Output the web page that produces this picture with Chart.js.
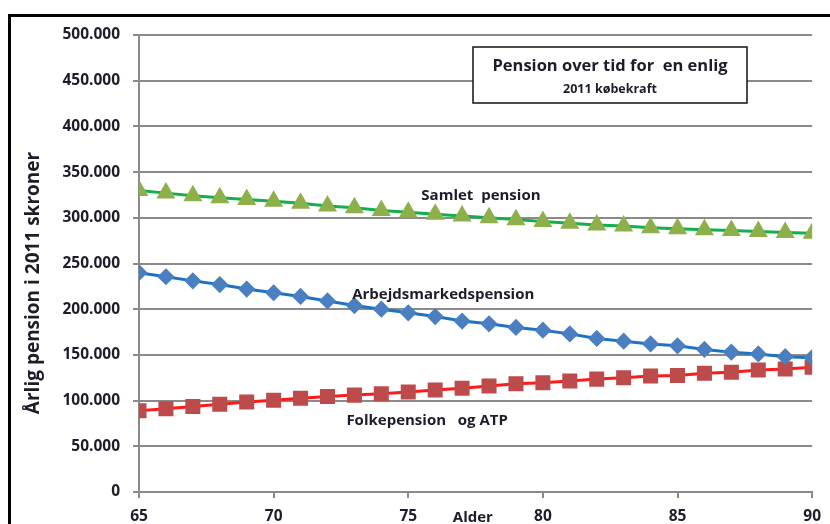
<!DOCTYPE html>
<html>
<head>
<meta charset="utf-8">
<script src="https://cdn.jsdelivr.net/npm/chart.js@4"></script>
<style>
  html, body { margin: 0; padding: 0; background: #fff; }
  #wrap { width: 830px; height: 524px; }
</style>
</head>
<body>
<div id="wrap"><canvas id="pensionChart" width="830" height="524"></canvas></div>
<script>
// alder 65..90
const ages = [65, 66, 67, 68, 69, 70, 71, 72, 73, 74, 75, 76, 77, 78, 79, 80, 81, 82, 83, 84, 85, 86, 87, 88, 89, 90];

const samletPension = [330000, 327000, 324000, 322000, 320000, 318000, 316000, 313000, 311000, 308000, 306000, 304000, 302000,
    300000, 298000, 296000, 294000, 292000, 291000, 289000, 288000, 287000, 286000, 285000, 284000, 283000];
const arbejdsmarkedPension = [240000, 235500, 231000, 227000, 222000, 218000, 214000, 209000, 204000, 200000, 196000, 192000, 187000,
    184000, 180000, 177000, 173000, 168000, 165000, 162000, 160000, 156000, 153000, 151000, 148000, 147000];
const folkepensionAtp = [89000, 91000, 93500, 96000, 98500, 100500, 102500, 104500, 106000, 107500, 109500, 111500, 113500,
    116000, 118500, 119500, 121500, 123500, 125000, 127000, 127500, 130000, 131000, 133500, 134500, 136500];

const yTicks = [0, 50000, 100000, 150000, 200000, 250000, 300000, 350000, 400000, 450000, 500000];
const xTicks = [65, 70, 75, 80, 85, 90];

const seriesLabels = ['Samlet  pension', 'Arbejdsmarkedspension', 'Folkepension   og ATP'];

function tusind(v) {
    // dansk tusindtalsseparator
    return String(v).replace(/\B(?=(\d{3})+(?!\d))/g, '.');
}

function toPoints(values) {
    return ages.map((a, i) => ({ x: a, y: values[i] }));
}

const FONT = '"Open Sans", Lato, sans-serif';
const TEXT = '#1c1c2a';

// ramme, titelboks og tekster i plottet
const pynt = {
    id: 'pynt',
    afterDraw(chart) {
        const { ctx, scales } = chart;
        const x = scales.x, y = scales.y;
        ctx.save();

        ctx.strokeStyle = '#000';
        ctx.lineWidth = 3;
        ctx.beginPath();
        ctx.moveTo(9.5, 530);
        ctx.lineTo(9.5, 15.5);
        ctx.lineTo(840, 15.5);
        ctx.stroke();

        // titelboks
        ctx.fillStyle = '#fff';
        ctx.fillRect(473, 47, 274, 56);
        ctx.strokeStyle = '#111';
        ctx.lineWidth = 1.5;
        ctx.strokeRect(473, 47, 274, 56);
        ctx.fillStyle = TEXT;
        ctx.textAlign = 'center';
        ctx.textBaseline = 'middle';
        ctx.font = 'bold 16.5px ' + FONT;
        ctx.fillText('Pension over tid for  en enlig', 610, 66);
        ctx.font = 'bold 12.5px ' + FONT;
        ctx.fillText('2011 købekraft', 610, 89);

        // serienavne
        ctx.font = 'bold 15px ' + FONT;
        ctx.fillText(seriesLabels[0], x.getPixelForValue(77.7), y.getPixelForValue(324000));
        ctx.fillText(seriesLabels[1], x.getPixelForValue(76.3), y.getPixelForValue(216000));
        ctx.fillText(seriesLabels[2], x.getPixelForValue(75.7), y.getPixelForValue(78000));

        // aksenavne
        ctx.fillText('Alder', x.getPixelForValue(77.4), 518);
        ctx.translate(34, 283);
        ctx.rotate(-Math.PI / 2);
        ctx.font = 'bold 19px ' + FONT;
        ctx.fillText('Årlig pension i 2011 skroner', 0, 0);

        ctx.restore();
    }
};

const ctx = document.getElementById('pensionChart').getContext('2d');

new Chart(ctx, {
    type: 'line',
    data: {
        datasets: [{
            label: seriesLabels[0],
            data: toPoints(samletPension),
            borderColor: '#12b04c',
            backgroundColor: '#8db04a',
            pointBackgroundColor: '#8db04a',
            pointBorderColor: '#8db04a',
            pointStyle: 'triangle',
            pointRadius: 8,
            borderWidth: 3,
        }, {
            label: seriesLabels[1],
            data: toPoints(arbejdsmarkedPension),
            borderColor: '#1d72c4',
            backgroundColor: '#4a7fc1',
            pointBackgroundColor: '#4a7fc1',
            pointBorderColor: '#4a7fc1',
            pointStyle: 'rectRot',
            pointRadius: 6.5,
            borderWidth: 3,
        }, {
            label: seriesLabels[2],
            data: toPoints(folkepensionAtp),
            borderColor: '#ff1a1a',
            backgroundColor: '#bd4b4b',
            pointBackgroundColor: '#bd4b4b',
            pointBorderColor: '#bd4b4b',
            pointStyle: 'rect',
            pointRadius: 8.5,
            borderWidth: 3,
        }]
    },
    options: {
        responsive: false,
        animation: false,
        layout: { padding: { left: 0, top: 35, right: 12, bottom: 0 } },
        plugins: {
            legend: { display: false },
            tooltip: { enabled: false },
        },
        scales: {
            x: {
                type: 'linear',
                min: 65,
                max: 90,
                afterFit(scale) { scale.height = 32; },
                afterBuildTicks(scale) { scale.ticks = xTicks.map(v => ({ value: v })); },
                ticks: {
                    padding: 9,
                    color: TEXT,
                    font: { family: FONT, size: 15.5, weight: 'bold' },
                },
                grid: { drawOnChartArea: false, drawTicks: true, tickLength: 6, color: '#8a8a8a', lineWidth: 2 },
                border: { color: '#8a8a8a', width: 2 },
            },
            y: {
                min: 0,
                max: 500000,
                afterFit(scale) { scale.width = 139; },
                afterBuildTicks(scale) { scale.ticks = yTicks.map(v => ({ value: v })); },
                ticks: {
                    padding: 13,
                    color: TEXT,
                    font: { family: FONT, size: 15.5, weight: 'bold' },
                    callback: v => tusind(v),
                },
                grid: { color: '#8a8a8a', lineWidth: 2, tickLength: 6 },
                border: { color: '#8a8a8a', width: 2 },
            }
        }
    },
    plugins: [pynt]
});
</script>
</body>
</html>
